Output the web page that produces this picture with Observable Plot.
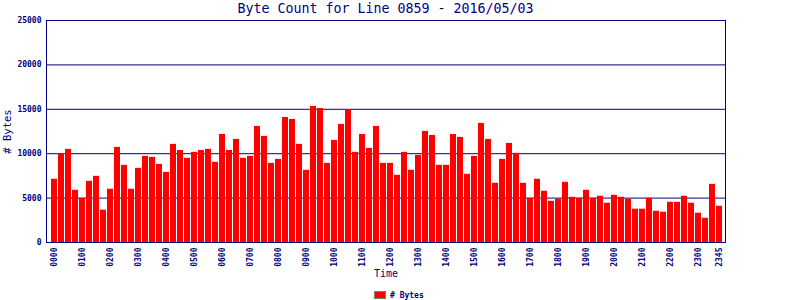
<!DOCTYPE html>
<html>
<head>
<meta charset="utf-8">
<script src="https://cdn.jsdelivr.net/npm/d3@7"></script>
<script src="https://cdn.jsdelivr.net/npm/@observablehq/plot@0.6"></script>
<style>
  html, body { margin: 0; padding: 0; background: #fff; }
  #wrap { width: 800px; height: 300px; position: relative; overflow: hidden; }
  #title { position: absolute; left: 0; top: 0; width: 771px; height: 19px; text-align: center; z-index: 2;
    font-family: "DejaVu Sans Mono", monospace; font-size: 13.3px; color: #000080; line-height: 18px; }
  #chart { position: absolute; left: 0; top: 0; }
  #legend { position: absolute; left: 374px; top: 290px; height: 10px; display: flex; align-items: center;
    font-family: "DejaVu Sans Mono", monospace; font-size: 8px; font-weight: bold; color: #000080; }
  #legend .sw { width: 10px; height: 6px; background: #ff0000; border: 1px solid #808080; margin-right: 4px; }
</style>
</head>
<body>
<div id="wrap">
  <div id="chart"></div>
  <div id="title">Byte Count for Line 0859 - 2016/05/03</div>
  <div id="legend"><span class="sw"></span><span># Bytes</span></div>
</div>
<script>
const times = [
  "0000","0015","0030","0045","0100","0115","0130","0145","0200","0215","0230","0245",
  "0300","0315","0330","0345","0400","0415","0430","0445","0500","0515","0530","0545",
  "0600","0615","0630","0645","0700","0715","0730","0745","0800","0815","0830","0845",
  "0900","0915","0930","0945","1000","1015","1030","1045","1100","1115","1130","1145",
  "1200","1215","1230","1245","1300","1315","1330","1345","1400","1415","1430","1445",
  "1500","1515","1530","1545","1600","1615","1630","1645","1700","1715","1730","1745",
  "1800","1815","1830","1845","1900","1915","1930","1945","2000","2015","2030","2045",
  "2100","2115","2130","2145","2200","2215","2230","2245","2300","2315","2330","2345"
];
const bytes = [
  7120, 10000, 10490, 5880, 4980, 6890, 7450, 3640, 6000, 10710, 8690, 6000,
  8350, 9700, 9590, 8800, 7900, 11050, 10370, 9480, 10150, 10370, 10490, 9030,
  12170, 10370, 11610, 9480, 9700, 13070, 11950, 8910, 9360, 14080, 13860, 11050,
  8130, 15320, 15090, 8910, 11500, 13300, 14950, 10150, 12170, 10600, 13070, 8910,
  8910, 7570, 10150, 8130, 9810, 12510, 12060, 8690, 8690, 12170, 11840, 7680,
  9700, 13410, 11610, 6670, 9360, 11160, 10040, 6670, 4980, 7120, 5770, 4640,
  4870, 6780, 5090, 4980, 5880, 4980, 5210, 4420, 5320, 5090, 4870, 3750,
  3750, 4980, 3520, 3410, 4530, 4530, 5210, 4420, 3300, 2730, 6550, 4080
];
const xTicks = ["0000","0100","0200","0300","0400","0500","0600","0700","0800","0900","1000","1100",
  "1200","1300","1400","1500","1600","1700","1800","1900","2000","2100","2200","2300","2345"];
const yTicks = [0, 5000, 10000, 15000, 20000, 25000];
const gridValues = [5000, 10000, 15000, 20000];

const data = times.map((t, i) => ({time: t, bytes: bytes[i]}));
const navy = "#000080";
const mono = "DejaVu Sans Mono, monospace";

const chart = Plot.plot({
  width: 800,
  height: 281,
  marginTop: 20,
  marginLeft: 46,
  marginRight: 75,
  marginBottom: 39,
  style: {background: "transparent", fontFamily: mono},
  x: {type: "band", domain: times, paddingInner: 1/7, paddingOuter: 0.5714, align: 0.625},
  y: {domain: [0, 25000]},
  marks: [
    Plot.ruleY(gridValues, {stroke: navy, strokeWidth: 1}),
    Plot.barY(data, {x: "time", y: "bytes", fill: "#ff0000"}),
    Plot.frame({stroke: navy, strokeWidth: 1}),
    Plot.axisY({ticks: yTicks, tickSize: 0, tickPadding: 5, tickFormat: d => String(d),
      fontSize: 8, fontWeight: "bold", fill: navy, label: null}),
    Plot.axisX({ticks: xTicks, tickSize: 0, tickPadding: 5, tickRotate: -90,
      fontSize: 8, fontWeight: "bold", fill: navy, label: null}),
    Plot.text(["# Bytes"], {frameAnchor: "left", dx: -39, rotate: -90, fontSize: 10.5,
      fill: navy, fontFamily: mono, textAnchor: "middle"}),
    Plot.text(["Time"], {frameAnchor: "bottom", dy: 34, fontSize: 10, fill: navy, fontFamily: mono,
      textAnchor: "middle"})
  ]
});
document.getElementById("chart").appendChild(chart);
</script>
</body>
</html>
